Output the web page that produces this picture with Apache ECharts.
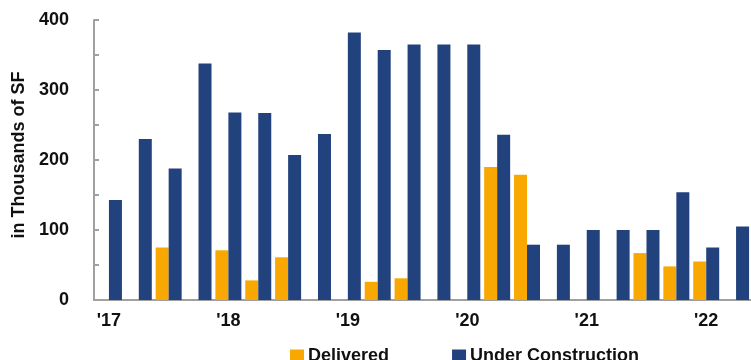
<!DOCTYPE html>
<html>
<head>
<meta charset="utf-8">
<script src="https://cdn.jsdelivr.net/npm/echarts@6/dist/echarts.min.js"></script>
<style>
  html, body { margin: 0; padding: 0; background: #fff; }
  #chart { width: 751px; height: 360px; }
</style>
</head>
<body>
<div id="chart"></div>
<script>
// Quarterly office space pipeline, 2017 Q1 – 2022 Q2 (thousands of SF)
const quarters = [
  '2017 Q1', '2017 Q2', '2017 Q3', '2017 Q4',
  '2018 Q1', '2018 Q2', '2018 Q3', '2018 Q4',
  '2019 Q1', '2019 Q2', '2019 Q3', '2019 Q4',
  '2020 Q1', '2020 Q2', '2020 Q3', '2020 Q4',
  '2021 Q1', '2021 Q2', '2021 Q3', '2021 Q4',
  '2022 Q1', '2022 Q2'
];
const yearLabels = ["'17", "'18", "'19", "'20", "'21", "'22"];
const delivered = [0, 0, 75, 0, 71, 28, 61, 0, 0, 26, 31, 0, 0, 190, 179, 0, 0, 0, 67, 48, 55, 0];
const underConstruction = [143, 230, 188, 338, 268, 267, 207, 237, 382, 357, 365, 365, 365, 236, 79, 79, 100, 100, 100, 154, 75, 105];

const FONT = '"Liberation Sans", Arial, Helvetica, sans-serif';
const AXIS_GRAY = '#a0a0a0';
const TEXT = '#111';

const chart = echarts.init(document.getElementById('chart'), null, { renderer: 'canvas' });
chart.setOption({
  animation: false,
  textStyle: { fontFamily: FONT },
  grid: { left: 94, top: 20, width: 660, height: 280, containLabel: false },
  legend: {
    left: 285,
    top: 342,
    itemWidth: 14,
    itemHeight: 13,
    itemGap: 63,
    icon: 'rect',
    textStyle: { fontFamily: FONT, fontWeight: 'bold', fontSize: 18, color: TEXT, padding: [0, 0, 0, -1] },
    data: ['Delivered', 'Under Construction']
  },
  xAxis: {
    type: 'category',
    data: quarters,
    axisLine: { lineStyle: { color: AXIS_GRAY, width: 2 } },
    axisTick: { inside: true, length: 5, interval: 0, lineStyle: { color: AXIS_GRAY, width: 2 } },
    axisLabel: {
      interval: 3,
      margin: 12,
      fontFamily: FONT,
      fontWeight: 'bold',
      fontSize: 18,
      color: TEXT,
      formatter: (v, i) => yearLabels[Math.floor(i / 4)]
    }
  },
  yAxis: {
    type: 'value',
    min: 0,
    max: 400,
    interval: 50,
    name: 'in Thousands of SF',
    nameLocation: 'middle',
    nameGap: 66,
    nameTextStyle: { fontFamily: FONT, fontWeight: 'bold', fontSize: 18, color: TEXT, padding: [0, 0, 0, 10] },
    splitLine: { show: false },
    axisLine: { show: true, lineStyle: { color: AXIS_GRAY, width: 2 } },
    axisTick: { show: true, inside: true, length: 5, lineStyle: { color: AXIS_GRAY, width: 2 } },
    axisLabel: {
      margin: 25,
      fontFamily: FONT,
      fontWeight: 'bold',
      fontSize: 18,
      color: TEXT,
      formatter: v => (v % 100 === 0 ? String(v) : '')
    }
  },
  series: [
    {
      name: 'Delivered',
      type: 'bar',
      data: delivered,
      barWidth: 13,
      barGap: '0%',
      itemStyle: { color: '#f8a800' }
    },
    {
      name: 'Under Construction',
      type: 'bar',
      data: underConstruction,
      barWidth: 13,
      barGap: '0%',
      itemStyle: { color: '#22427e' }
    }
  ]
});
</script>
</body>
</html>
